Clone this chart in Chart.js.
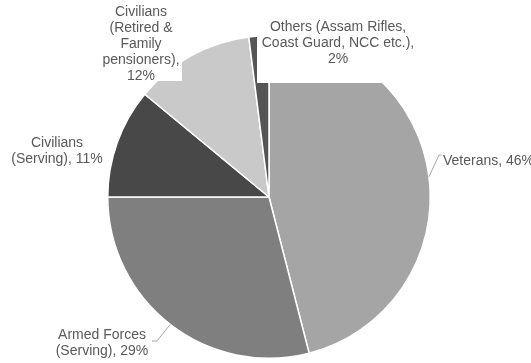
<!DOCTYPE html>
<html>
<head>
<meta charset="utf-8">
<script src="https://cdn.jsdelivr.net/npm/chart.js@4.4.1/dist/chart.umd.min.js"></script>
<style>
  html, body { margin: 0; padding: 0; background: #fff; }
  canvas { display: block; }
</style>
</head>
<body>
<canvas id="pensionPie" width="531" height="363"></canvas>
<script>
// slices, clockwise from 12 o'clock
const categories = [
  'Veterans',
  'Armed Forces (Serving)',
  'Civilians (Serving)',
  'Civilians (Retired & Family pensioners)',
  'Others (Assam Rifles, Coast Guard, NCC etc.)'
];
const shares = [46, 29, 11, 12, 2];
const sliceColors = ['#a5a5a5', '#7f7f7f', '#484848', '#c9c9c9', '#555555'];

// where each data label sits (text block centre, wrap width, white box, leader elbow)
const labelLayout = [
  { x: 443, y: 161, align: 'left', wrap: 300, leader: [[441.5, 155], [439, 155]] },
  { x: 102, y: 343, wrap: 100, box: [52, 324, 100, 38], leader: [[152, 341], [157, 341]] },
  { x: 57, y: 151, wrap: 100, box: [8, 133, 99, 35] },
  { x: 141, y: 44.5, wrap: 85, box: [97, 0, 85, 81] },
  { x: 338, y: 43, wrap: 155, box: [257, 3, 163, 80] }
];

const LINE_H = 16;
const FONT = "14px 'Liberation Sans', Arial, sans-serif";

function wrapText(ctx, text, maxW) {
  let words = text.split(' ');
  let lines = [];
  let cur = '';
  words.forEach(w => {
    let test = cur ? cur + ' ' + w : w;
    if (cur && ctx.measureText(test).width > maxW) {
      lines.push(cur);
      cur = w;
    } else {
      cur = test;
    }
  });
  if (cur) lines.push(cur);
  return lines;
}

const pieLabels = {
  id: 'pieLabels',
  afterDatasetsDraw(chart) {
    const ctx = chart.ctx;
    const arcs = chart.getDatasetMeta(0).data;
    ctx.save();
    ctx.font = FONT;
    arcs.forEach((arc, i) => {
      const lay = labelLayout[i];
      const text = categories[i] + ', ' + shares[i] + '%';
      const lines = wrapText(ctx, text, lay.wrap);

      if (lay.box) {
        ctx.fillStyle = '#ffffff';
        ctx.fillRect(lay.box[0], lay.box[1], lay.box[2], lay.box[3]);
      }

      if (lay.leader) {
        const p = arc.getProps(['x', 'y', 'startAngle', 'endAngle', 'outerRadius'], true);
        const mid = (p.startAngle + p.endAngle) / 2;
        const ex = p.x + Math.cos(mid) * p.outerRadius;
        const ey = p.y + Math.sin(mid) * p.outerRadius;
        ctx.strokeStyle = '#a6a6a6';
        ctx.lineWidth = 1;
        ctx.beginPath();
        ctx.moveTo(lay.leader[0][0], lay.leader[0][1]);
        ctx.lineTo(lay.leader[1][0], lay.leader[1][1]);
        ctx.lineTo(ex, ey);
        ctx.stroke();
      }

      ctx.fillStyle = '#595959';
      ctx.textAlign = lay.align || 'center';
      ctx.textBaseline = 'middle';
      const top = lay.y - (lines.length - 1) * LINE_H / 2;
      lines.forEach((ln, k) => {
        ctx.fillText(ln, lay.x, top + k * LINE_H);
      });
    });
    ctx.restore();
  }
};

const canvas = document.getElementById('pensionPie');
new Chart(canvas, {
  type: 'pie',
  data: {
    labels: categories,
    datasets: [{
      data: shares,
      backgroundColor: sliceColors,
      borderColor: '#ffffff',
      borderWidth: 1.5
    }]
  },
  options: {
    responsive: false,
    animation: false,
    layout: {
      padding: { left: 107, right: 100, top: 35, bottom: 4 }
    },
    plugins: {
      legend: { display: false },
      tooltip: { enabled: false }
    }
  },
  plugins: [pieLabels]
});
</script>
</body>
</html>
